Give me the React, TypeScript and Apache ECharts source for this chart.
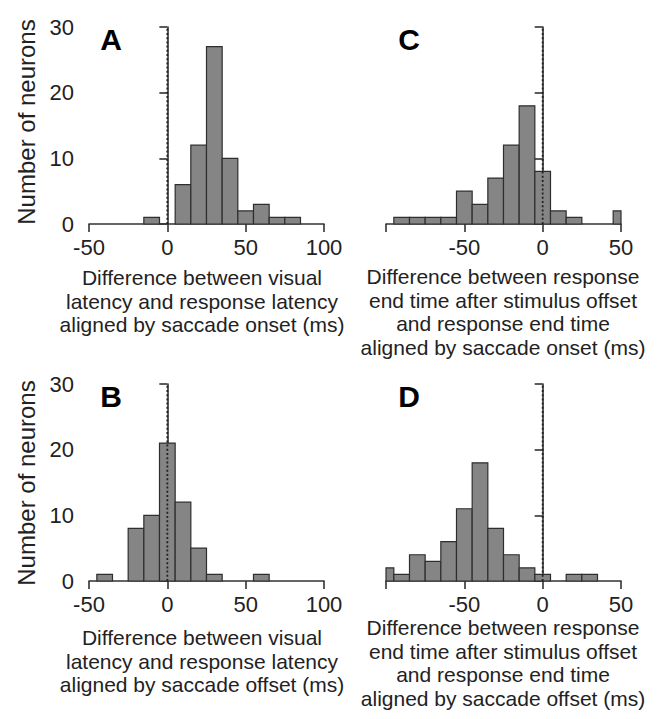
import React, { useEffect, useRef } from "react";
import * as echarts from "echarts";

// Bin centres (ms) and neuron counts, bin width 10 ms
const BIN = 10;
const binsA = [-10, 10, 20, 30, 40, 50, 60, 70, 80];
const countsA = [1, 6, 12, 27, 10, 2, 3, 1, 1];
const binsB = [-40, -20, -10, 0, 10, 20, 30, 60];
const countsB = [1, 8, 10, 21, 12, 5, 1, 1];
const binsC = [-90, -80, -70, -60, -50, -40, -30, -20, -10, 0, 10, 20, 50];
const countsC = [1, 1, 1, 1, 5, 3, 7, 12, 18, 8, 2, 1, 2];
const binsD = [-100, -90, -80, -70, -60, -50, -40, -30, -20, -10, 0, 20, 30];
const countsD = [2, 1, 4, 3, 6, 11, 18, 8, 4, 2, 1, 1, 1];

const yTicks = [0, 10, 20, 30];
const xTicksLeft = [-50, 0, 50, 100];
const xTicksRight = [-50, 0, 50];

const yTitle = "Number of neurons";
const titleA = "Difference between visual\nlatency and response latency\naligned by saccade onset (ms)";
const titleB = "Difference between visual\nlatency and response latency\naligned by saccade offset (ms)";
const titleC = "Difference between response\nend time after stimulus offset\nand response end time\naligned by saccade onset (ms)";
const titleD = "Difference between response\nend time after stimulus offset\nand response end time\naligned by saccade offset (ms)";

const FONT = '"Liberation Sans", Arial, Helvetica, sans-serif';
const AXIS_COLOR = "#333";
const TEXT_COLOR = "#222";

export default function App() {
  const ref = useRef<HTMLDivElement>(null);

  useEffect(() => {
    if (!ref.current) return;
    const chart = echarts.init(ref.current, undefined, { renderer: "svg" });

    const grids = [
      { left: 89, top: 27, width: 235, height: 197 },
      { left: 386, top: 27, width: 235, height: 197 },
      { left: 89, top: 384, width: 235, height: 197 },
      { left: 386, top: 384, width: 235, height: 197 },
    ];
    const ranges = [
      [-50, 100, xTicksLeft],
      [-100, 50, xTicksRight],
      [-50, 100, xTicksLeft],
      [-100, 50, xTicksRight],
    ] as const;

    const xAxis = ranges.map((r, i) => ({
      type: "value",
      gridIndex: i,
      min: r[0],
      max: r[1],
      interval: 50,
      splitLine: { show: false },
      axisLine: { lineStyle: { color: AXIS_COLOR, width: 1.6 } },
      axisTick: { show: true, length: 8, lineStyle: { color: AXIS_COLOR, width: 1.6 } },
      axisLabel: {
        color: TEXT_COLOR,
        fontSize: 22,
        fontFamily: FONT,
        margin: 12,
        formatter: (v: number) => ((r[2] as readonly number[]).includes(v) ? String(v) : ""),
      },
    }));

    const yAxis = grids.map((_, i) => ({
      type: "value",
      gridIndex: i,
      min: 0,
      max: 30,
      interval: 10,
      splitLine: { show: false },
      axisLine: { show: true, lineStyle: { color: AXIS_COLOR, width: 1.6 } },
      axisTick: { show: true, length: 8, lineStyle: { color: AXIS_COLOR, width: 1.6 } },
      axisLabel: {
        show: i === 0 || i === 2,
        color: TEXT_COLOR,
        fontSize: 22,
        fontFamily: FONT,
        margin: 15,
        formatter: (v: number) => (yTicks.includes(v) ? String(v) : ""),
      },
    }));

    const datasets = [
      [binsA, countsA],
      [binsC, countsC],
      [binsB, countsB],
      [binsD, countsD],
    ];

    const series: any[] = [];
    datasets.forEach(([bins, counts], i) => {
      series.push({
        type: "custom",
        xAxisIndex: i,
        yAxisIndex: i,
        encode: { x: 0, y: 1 },
        data: bins.map((c, k) => [c, counts[k]]),
        renderItem: (params: any, api: any) => {
          const c = api.value(0);
          const h = api.value(1);
          const p0 = api.coord([c - BIN / 2, h]);
          const p1 = api.coord([c + BIN / 2, 0]);
          const cs = params.coordSys;
          const x0 = Math.max(p0[0], cs.x);
          const x1 = Math.min(p1[0], cs.x + cs.width);
          return {
            type: "rect",
            shape: { x: x0, y: p0[1], width: x1 - x0, height: p1[1] - p0[1] },
            style: { fill: "#858585", stroke: "#2e2e2e", lineWidth: 1.2 },
          };
        },
        z: 2,
      });
      series.push({
        type: "line",
        xAxisIndex: i,
        yAxisIndex: i,
        data: [
          [0, 0],
          [0, 30],
        ],
        symbol: "none",
        lineStyle: { color: "#222", width: 1.8, type: [2, 2.2] },
        z: 5,
      });
    });

    const text = (t: string, x: number, y: number) => ({
      type: "text",
      x,
      y,
      style: {
        text: t,
        font: `21px ${FONT}`,
        fill: TEXT_COLOR,
        textAlign: "center",
        textVerticalAlign: "top",
        lineHeight: 23.5,
      },
    });

    const letter = (t: string, x: number, y: number) => ({
      type: "text",
      x,
      y,
      style: {
        text: t,
        font: `bold 30px ${FONT}`,
        fill: "#000",
        textAlign: "center",
        textVerticalAlign: "middle",
      },
    });

    const yLabel = (y: number) => ({
      type: "text",
      x: 26,
      y,
      rotation: Math.PI / 2,
      style: {
        text: yTitle,
        font: `24px ${FONT}`,
        fill: TEXT_COLOR,
        textAlign: "center",
        textVerticalAlign: "middle",
      },
    });

    const graphic = [
      text(titleA, 202, 266),
      text(titleC, 503, 265),
      text(titleB, 202, 626),
      text(titleD, 503, 616),
      letter("A", 111, 39),
      letter("C", 409, 39),
      letter("B", 111, 396),
      letter("D", 409, 396),
      yLabel(122),
      yLabel(483),
    ];

    chart.setOption({
      animation: false,
      backgroundColor: "#fff",
      grid: grids,
      xAxis,
      yAxis,
      series,
      graphic,
    });

    return () => chart.dispose();
  }, []);

  return (
    <div
      ref={ref}
      style={{ position: "fixed", left: 0, top: 0, width: 660, height: 719 }}
    />
  );
}
